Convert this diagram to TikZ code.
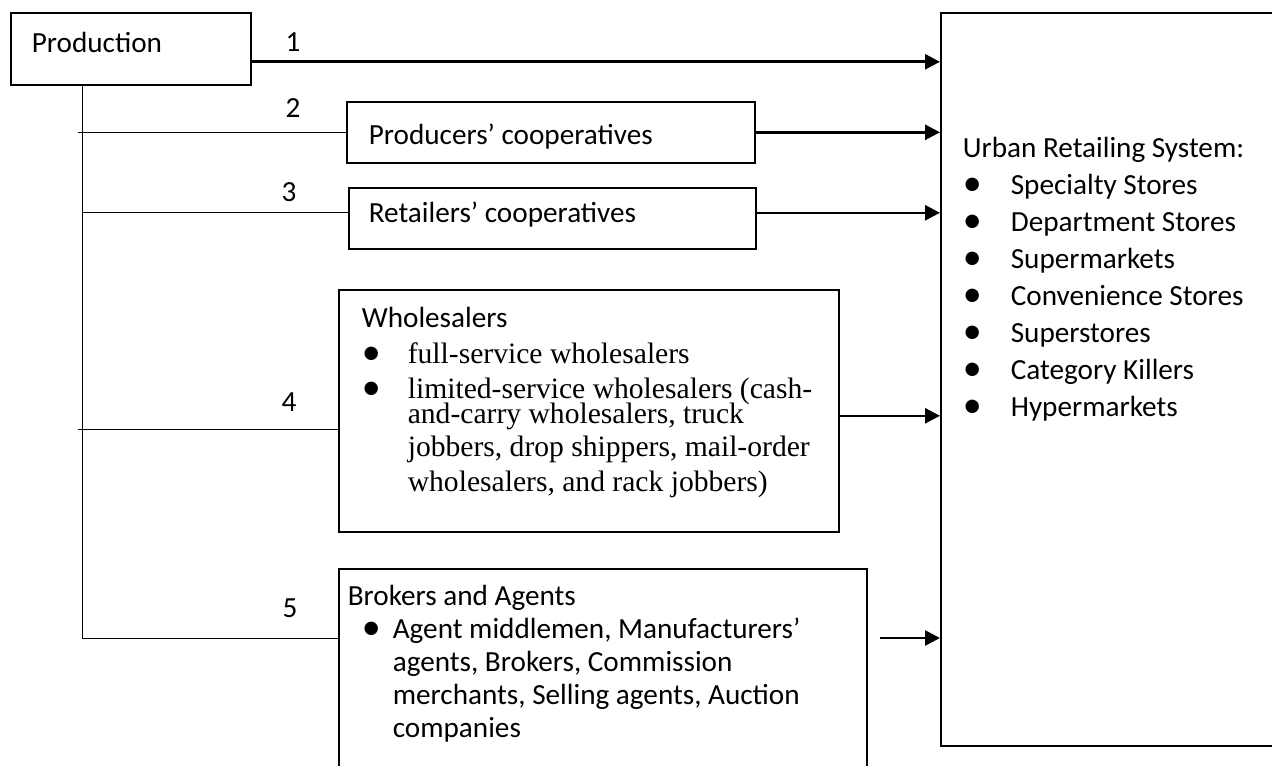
\documentclass[tikz,border=0pt]{standalone}
\usepackage{fontspec}
\setmainfont{Carlito}
\newfontfamily\tnr{Liberation Serif}
\usepackage{graphicx}
\usepackage{tikz}
\usetikzlibrary{
  arrows.meta,
  positioning,
}
\newcommand{\bul}[1]{\makebox[#1][l]{\raisebox{-0.4pt}{\scalebox{1.3}{\textbullet}}}}
\newcommand{\serif}{\tnr\fontsize{14.8}{17.5}\selectfont}

\begin{document}
\begin{tikzpicture}[
    x=0.5pt, y=-0.5pt,
    font=\fontsize{14.6}{18.5}\selectfont,
    box/.style={draw, line width=0.8pt, anchor=north west, align=flush left,
                inner ysep=0pt},
    link/.style={line width=0.5pt},
    flow/.style={line width=1.3pt, -{Triangle[length=7.5pt, width=7.5pt]}},
    num/.style={inner sep=0pt},
  ]
  \useasboundingbox (0,0) rectangle (1272,765);

  \node[box, inner xsep=10.5pt, text width=99pt,
        text height=20pt, text depth=16pt] (prod) at (10,12) {Production};

  \node[box, inner xsep=11pt, text width=182pt,
        text height=21.5pt, text depth=9pt] (coop1) at (346,101)
        {Producers’ cooperatives};
  \node[box, inner xsep=10pt, text width=183.5pt,
        text height=17.5pt, text depth=13pt] (coop2) at (348,187)
        {Retailers’ cooperatives};

  \node[box, inner xsep=11.5pt, text width=227pt,
        text height=19pt, text depth=102pt] (whole) at (338,289)
        {Wholesalers\\[-0.5pt]
         \bul{23pt}\mbox{\serif full-service wholesalers}\\[-1pt]
         \bul{23pt}\mbox{\serif limited-service wholesalers (cash-}\\[-6pt]
         \hspace*{23pt}\mbox{\serif and-carry wholesalers, truck}\\[-2pt]
         \hspace*{23pt}\mbox{\serif jobbers, drop shippers, mail-order}\\[-1pt]
         \hspace*{23pt}\mbox{\serif wholesalers, and rack jobbers)}};

  % bottom edge runs off the page
  \node[box, inner xsep=4.5pt, text width=255pt,
        text height=18.5pt, text depth=85pt,
        font=\fontsize{14.6}{16.5}\selectfont] (brokers) at (338,568)
        {Brokers and Agents\\
         \hspace*{7pt}\bul{15.5pt}Agent middlemen, Manufacturers’\\
         \hspace*{22.5pt}agents, Brokers, Commission\\
         \hspace*{22.5pt}merchants, Selling agents, Auction\\
         \hspace*{22.5pt}companies};

  % right edge runs off the page
  \node[box, inner xsep=11pt, text width=150.5pt,
        text height=72.5pt, text depth=294pt] (urban) at (940,12)
        {Urban Retailing System:\\
         \bul{24pt}Specialty Stores\\
         \bul{24pt}Department Stores\\
         \bul{24pt}Supermarkets\\
         \bul{24pt}Convenience Stores\\
         \bul{24pt}Superstores\\
         \bul{24pt}Category Killers\\
         \bul{24pt}Hypermarkets};

  \node[num] (n1) at (293,42)  {1};
  \node[num] (n2) at (293,108) {2};
  \node[num] (n3) at (289,192) {3};
  \node[num] (n4) at (289,402) {4};
  \node[num] (n5) at (290,608) {5};

  % channel lines off the production box
  \coordinate (trunk) at ([xshift=36pt]prod.south west);
  \coordinate (b2) at ([xshift=-2pt]trunk |- coop1.west);
  \coordinate (b3) at ([yshift=2.75pt]coop2.west);
  \coordinate (b4) at ([yshift=-9.5pt]whole.west);
  \coordinate (b4s) at ([xshift=-2pt]trunk |- b4);
  \coordinate (b5) at ([yshift=-35pt]brokers.north west);

  \draw[link] (trunk) -- (trunk |- b5) -- (b5);
  \draw[link] (b2) -- (coop1.west);
  \draw[link] (trunk |- b3) -- (b3);
  \draw[link] (b4s) -- (b4);

  % arrows into the retailing system
  \coordinate (a1) at ([yshift=-6.5pt]prod.east);
  \coordinate (a3) at ([yshift=2.75pt]coop2.east);
  \coordinate (a4) at ([yshift=-2.5pt]whole.east);
  \coordinate (a5) at ([xshift=6pt, yshift=-35pt]brokers.north east);

  \draw[flow] (a1) -- (a1 -| urban.west);
  \draw[flow] (coop1.east) -- (coop1.east -| urban.west);
  \draw[flow] (a3) -- (a3 -| urban.west);
  \draw[flow] (a4) -- (a4 -| urban.west);
  \draw[flow] (a5) -- (a5 -| urban.west);
\end{tikzpicture}
\end{document}
